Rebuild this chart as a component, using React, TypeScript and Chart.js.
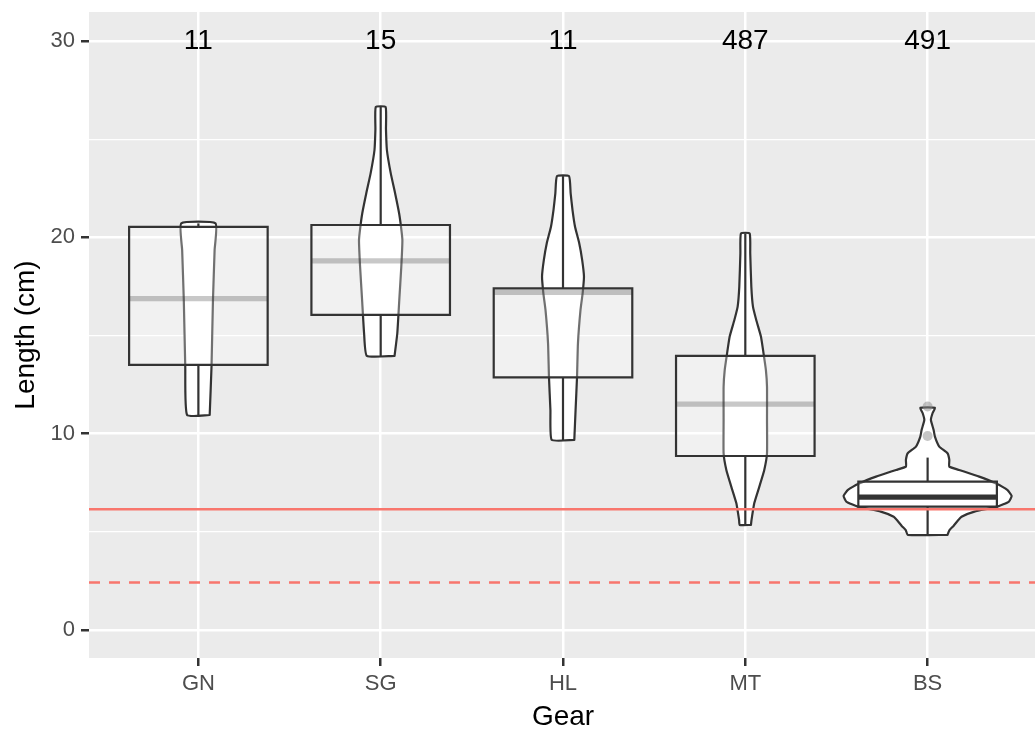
import React, { useEffect, useRef } from 'react';
import { Chart, registerables } from 'chart.js';

Chart.register(...registerables);

// ---------- data ----------
const GEARS = ['GN', 'SG', 'HL', 'MT', 'BS'];
const COUNTS = [11, 15, 11, 487, 491];
const COUNT_LABEL_Y = 30;

const WHISKER_LOW = [10.95, 13.96, 9.68, 5.35, 4.84];
const Q1 = [13.5, 16.05, 12.87, 8.86, 6.28];
const MEDIAN = [16.88, 18.8, 17.2, 11.5, 6.77];
const Q3 = [20.53, 20.63, 17.4, 13.96, 7.56];
const WHISKER_HIGH = [20.71, 26.64, 23.12, 20.2, 8.78];
const OUTLIERS_BS = [9.88, 11.38];

// violin outlines: [length, half-width in category units], top to bottom
const VIOLIN_GN = [[20.71, 0.094], [19.35, 0.089], [16.81, 0.08], [13.41, 0.072], [10.95, 0.062]];
const VIOLIN_SG = [[26.64, 0.027], [25.5, 0.029], [24.45, 0.034], [23.27, 0.055], [22.25, 0.079], [21.23, 0.101], [20.5, 0.112], [19.87, 0.119], [18.5, 0.113], [16.81, 0.102], [15.1, 0.091], [13.96, 0.076]];
const VIOLIN_HL = [[23.12, 0.033], [22.24, 0.042], [21.4, 0.052], [20.54, 0.066], [19.7, 0.089], [18.85, 0.105], [18.0, 0.115], [17.17, 0.108], [16.3, 0.096], [14.6, 0.082], [12.9, 0.077], [11.2, 0.069], [9.68, 0.062]];
const VIOLIN_MT = [[20.2, 0.024], [19.19, 0.027], [17.49, 0.033], [16.47, 0.042], [15.79, 0.06], [14.94, 0.086], [14.09, 0.1], [13.24, 0.113], [12.39, 0.119], [10.7, 0.119], [9.0, 0.119], [8.15, 0.104], [7.3, 0.077], [6.45, 0.049], [5.6, 0.034], [5.35, 0.031]];
const VIOLIN_BS = [[11.32, 0.04], [11.04, 0.027], [10.7, 0.018], [10.19, 0.033], [9.85, 0.04], [9.34, 0.064], [9.0, 0.109], [8.66, 0.119], [8.32, 0.119], [8.15, 0.173], [7.81, 0.283], [7.47, 0.373], [7.13, 0.437], [6.83, 0.461], [6.54, 0.446], [6.28, 0.383], [6.03, 0.257], [5.77, 0.186], [5.55, 0.164], [5.3, 0.142], [5.09, 0.12], [4.84, 0.109]];
const VIOLINS = [VIOLIN_GN, VIOLIN_SG, VIOLIN_HL, VIOLIN_MT, VIOLIN_BS];

const REF_SOLID = 6.15;
const REF_DASHED = 2.41;

const X_MIN = 0.4;
const X_MAX = 5.6;
const Y_MIN = -1.43;
const Y_MAX = 31.48;
const Y_TICKS = [0, 5, 10, 15, 20, 25, 30];
const Y_MAJOR = [0, 10, 20, 30];

// ---------- styles ----------
const BOX_HALF = 0.38;
const DARK = '#333333';
const MEDIAN_COLORS = ['rgba(51,51,51,0.27)', 'rgba(51,51,51,0.27)', 'rgba(51,51,51,0.27)', 'rgba(51,51,51,0.27)', '#333333'];
const RED = '#F8766D';
const FONT = '"Liberation Sans", Arial, Helvetica, sans-serif';

const pt = (x: number, y: number) => ({ x, y });

function buildDatasets() {
  const ds: any[] = [];
  const lineBase = { pointRadius: 0, pointHoverRadius: 0, pointHitRadius: 0, tension: 0, fill: false };
  GEARS.forEach((_, i) => {
    const c = i + 1;
    const prof = VIOLINS[i];
    const right = [...prof].reverse().map(([y, w]) => pt(c + w, y));
    const left = prof.map(([y, w]) => pt(c - w, y));
    ds.push({
      ...lineBase,
      data: [...right, ...left, right[0]],
      fill: 'shape',
      backgroundColor: '#FFFFFF',
      borderColor: DARK,
      borderWidth: 2.2,
      borderJoinStyle: 'round',
      borderCapStyle: 'round',
      tension: 0.15,
      order: 50,
    });
    ds.push({ ...lineBase, data: [pt(c, Q3[i]), pt(c, WHISKER_HIGH[i])], borderColor: DARK, borderWidth: 2.2, order: 40 });
    ds.push({ ...lineBase, data: [pt(c, Q1[i]), pt(c, WHISKER_LOW[i])], borderColor: DARK, borderWidth: 2.2, order: 40 });
    ds.push({
      ...lineBase,
      data: [pt(c - BOX_HALF, Q1[i]), pt(c + BOX_HALF, Q1[i]), pt(c + BOX_HALF, Q3[i]), pt(c - BOX_HALF, Q3[i]), pt(c - BOX_HALF, Q1[i]), pt(c + BOX_HALF, Q1[i])],
      fill: 'shape',
      backgroundColor: 'rgba(255,255,255,0.3)',
      borderColor: DARK,
      borderWidth: 2.2,
      borderJoinStyle: 'miter',
      order: 30,
    });
    ds.push({ ...lineBase, data: [pt(c - BOX_HALF, MEDIAN[i]), pt(c + BOX_HALF, MEDIAN[i])], borderColor: MEDIAN_COLORS[i], borderWidth: 5.2, order: 20 });
  });
  ds.push({
    data: OUTLIERS_BS.map((v) => pt(5, v)),
    showLine: false,
    pointRadius: 5,
    pointHoverRadius: 5,
    pointBackgroundColor: 'rgba(140,140,140,0.5)',
    pointBorderWidth: 0,
    order: 15,
  });
  ds.push({ ...lineBase, data: [pt(X_MIN, REF_SOLID), pt(X_MAX, REF_SOLID)], borderColor: RED, borderWidth: 2.5, order: 10 });
  ds.push({ ...lineBase, data: [pt(X_MIN, REF_DASHED), pt(X_MAX, REF_DASHED)], borderColor: RED, borderWidth: 2.5, borderDash: [11, 9], order: 10 });
  return ds;
}

const panelBg = {
  id: 'panelBg',
  beforeDraw(chart: any) {
    const { ctx, chartArea: a } = chart;
    ctx.save();
    ctx.fillStyle = '#EBEBEB';
    ctx.fillRect(a.left, a.top, a.right - a.left, a.bottom - a.top);
    ctx.restore();
  },
};

const countLabels = {
  id: 'countLabels',
  afterDatasetsDraw(chart: any) {
    const { ctx, scales } = chart;
    ctx.save();
    ctx.font = `28px ${FONT}`;
    ctx.fillStyle = '#000000';
    ctx.textAlign = 'center';
    ctx.textBaseline = 'middle';
    COUNTS.forEach((n, i) => {
      ctx.fillText(String(n), scales.x.getPixelForValue(i + 1), scales.y.getPixelForValue(COUNT_LABEL_Y));
    });
    ctx.restore();
  },
};

export default function App() {
  const ref = useRef<HTMLCanvasElement | null>(null);
  useEffect(() => {
    if (!ref.current) return;
    Chart.defaults.font.family = FONT;
    const chart = new Chart(ref.current, {
      type: 'line',
      data: { datasets: buildDatasets() },
      options: {
        animation: false,
        responsive: false,
        devicePixelRatio: 1,
        events: [],
        layout: { padding: { top: 12, left: 0, right: 0, bottom: 0 } },
        plugins: { legend: { display: false }, tooltip: { enabled: false } },
        scales: {
          x: {
            type: 'linear',
            min: X_MIN,
            max: X_MAX,
            bounds: 'data',
            afterBuildTicks: (s: any) => {
              s.ticks = GEARS.map((_, i) => ({ value: i + 1 }));
            },
            afterFit: (s: any) => {
              s.height = 72;
              s.paddingLeft = 0;
              s.paddingRight = 0;
            },
            ticks: {
              callback: (_v: any, idx: number) => GEARS[idx] ?? '',
              color: '#4D4D4D',
              font: { size: 22 },
              padding: 5,
              maxRotation: 0,
              autoSkip: false,
            },
            grid: { color: '#FFFFFF', lineWidth: 2.5, tickColor: DARK, tickLength: 8, tickWidth: 2.5 },
            border: { display: false },
            title: { display: true, text: 'Gear', color: '#000000', font: { size: 28, lineHeight: 1 }, padding: { top: 0, bottom: -1 } },
          },
          y: {
            type: 'linear',
            min: Y_MIN,
            max: Y_MAX,
            bounds: 'data',
            afterBuildTicks: (s: any) => {
              s.ticks = Y_TICKS.map((v) => ({ value: v }));
            },
            afterFit: (s: any) => {
              s.width = 89;
              s.paddingTop = 0;
              s.paddingBottom = 0;
            },
            ticks: {
              callback: (v: any) => (Y_MAJOR.includes(Number(v)) ? String(v) : ''),
              color: '#4D4D4D',
              font: { size: 22 },
              padding: 6,
              autoSkip: false,
            },
            grid: {
              color: '#FFFFFF',
              lineWidth: (ctx: any) => (Y_MAJOR.includes(ctx.tick?.value) ? 2.5 : 1.3),
              tickColor: (ctx: any) => (Y_MAJOR.includes(ctx.tick?.value) ? DARK : 'rgba(0,0,0,0)'),
              tickLength: 8,
              tickWidth: 2.5,
            },
            border: { display: false },
            title: { display: true, text: 'Length (cm)', color: '#000000', font: { size: 28, lineHeight: 1 }, padding: { top: 12, bottom: 0 } },
          },
        },
      } as any,
      plugins: [panelBg, countLabels],
    });
    return () => chart.destroy();
  }, []);

  return (
    <div style={{ position: 'fixed', left: 0, top: 0, width: 1035, height: 730, overflow: 'hidden', background: '#FFFFFF' }}>
      <canvas ref={ref} width={1042} height={730} style={{ display: 'block', width: 1042, height: 730 }} />
    </div>
  );
}
